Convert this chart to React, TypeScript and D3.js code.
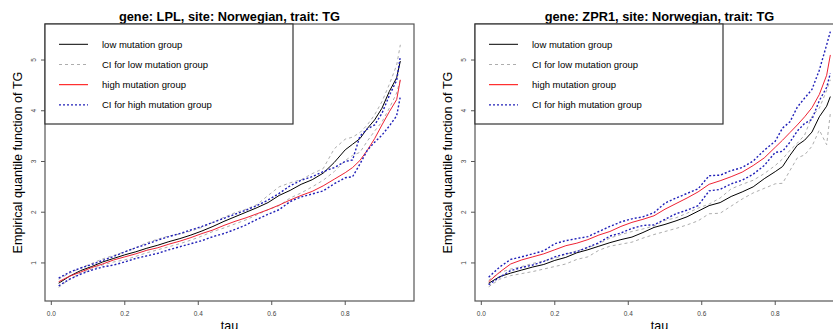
import React from "react";
import * as d3 from "d3";

const taus = [0.02,0.05,0.08,0.11,0.14,0.17,0.20,0.23,0.26,0.29,0.32,0.35,0.38,0.41,0.44,0.47,0.50,0.53,0.56,0.59,0.62,0.65,0.68,0.71,0.74,0.77,0.80,0.82,0.84,0.86,0.88,0.90,0.92,0.94,0.95];

// gene LPL
const lplLow = [0.60,0.74,0.85,0.93,1.02,1.09,1.16,1.22,1.29,1.35,1.42,1.48,1.55,1.63,1.72,1.82,1.91,2.00,2.09,2.19,2.33,2.43,2.55,2.64,2.77,2.98,3.23,3.34,3.45,3.65,3.82,4.05,4.38,4.65,4.98];
const lplLowUpper = [0.68,0.80,0.90,0.99,1.08,1.15,1.22,1.30,1.40,1.47,1.53,1.57,1.63,1.70,1.80,1.90,1.99,2.06,2.15,2.33,2.50,2.58,2.64,2.76,2.86,3.25,3.44,3.48,3.57,3.72,3.92,4.18,4.52,4.90,5.30];
const lplLowLower = [0.52,0.68,0.80,0.88,0.96,1.02,1.06,1.13,1.20,1.26,1.32,1.38,1.45,1.53,1.62,1.69,1.77,1.85,1.95,2.05,2.13,2.28,2.38,2.50,2.63,2.80,3.02,3.12,3.18,3.40,3.60,3.78,4.05,4.35,4.62];
const lplHigh = [0.63,0.74,0.82,0.91,0.98,1.06,1.12,1.18,1.25,1.30,1.37,1.43,1.50,1.58,1.65,1.74,1.82,1.89,1.97,2.05,2.14,2.24,2.33,2.41,2.52,2.65,2.78,2.88,3.02,3.22,3.45,3.72,3.98,4.22,4.61];
const lplHighUpper = [0.70,0.82,0.90,0.97,1.05,1.13,1.22,1.30,1.37,1.45,1.52,1.58,1.65,1.72,1.80,1.88,1.96,2.04,2.13,2.24,2.37,2.52,2.63,2.70,2.80,2.88,3.00,3.03,3.50,3.64,3.72,3.95,4.30,4.60,5.07];
const lplHighLower = [0.55,0.68,0.78,0.86,0.92,0.96,1.02,1.09,1.14,1.19,1.26,1.32,1.38,1.44,1.52,1.58,1.66,1.75,1.86,1.96,2.05,2.21,2.30,2.36,2.42,2.56,2.68,2.70,2.95,3.22,3.38,3.52,3.70,3.90,4.28];

// gene ZPR1
const zprLow = [0.60,0.73,0.80,0.86,0.92,0.97,1.05,1.11,1.20,1.26,1.33,1.40,1.46,1.51,1.60,1.70,1.76,1.83,1.91,2.02,2.13,2.19,2.31,2.40,2.50,2.66,2.80,2.90,3.12,3.32,3.42,3.58,3.88,4.09,4.28];
const zprLowUpper = [0.66,0.81,0.88,0.93,0.99,1.04,1.09,1.17,1.24,1.30,1.38,1.49,1.56,1.62,1.67,1.73,1.84,1.89,1.98,2.08,2.16,2.28,2.46,2.55,2.63,2.76,2.92,3.05,3.22,3.36,3.52,3.89,4.05,4.40,4.61];
const zprLowLower = [0.53,0.68,0.75,0.79,0.83,0.88,0.93,0.98,1.07,1.12,1.25,1.33,1.37,1.41,1.49,1.56,1.62,1.68,1.75,1.83,1.97,1.98,2.12,2.26,2.38,2.47,2.56,2.57,2.82,3.07,3.13,3.30,3.62,3.33,3.95];
const zprHigh = [0.63,0.82,0.98,1.06,1.12,1.18,1.26,1.34,1.39,1.46,1.55,1.62,1.72,1.80,1.86,1.93,2.06,2.17,2.28,2.40,2.55,2.62,2.70,2.79,2.92,3.07,3.28,3.42,3.57,3.72,3.88,4.06,4.32,4.70,5.10];
const zprHighUpper = [0.72,0.92,1.07,1.12,1.18,1.24,1.38,1.44,1.48,1.52,1.62,1.72,1.81,1.87,1.91,1.99,2.18,2.28,2.37,2.46,2.72,2.73,2.82,2.88,3.01,3.22,3.40,3.66,3.78,4.07,4.25,4.42,4.80,5.30,5.56];
const zprHighLower = [0.57,0.72,0.85,0.91,0.96,1.03,1.12,1.18,1.22,1.31,1.40,1.53,1.59,1.68,1.74,1.75,1.86,1.97,2.04,2.13,2.42,2.45,2.56,2.63,2.75,2.92,3.18,3.20,3.38,3.60,3.75,3.83,4.20,4.46,4.74];

const xTicks = [0, 0.2, 0.4, 0.6, 0.8];
const xTickLabels = ["0.0", "0.2", "0.4", "0.6", "0.8"];
const yTicks = [1, 2, 3, 4, 5];
const legendLabels = ["low mutation group", "CI for low mutation group", "high mutation group", "CI for high mutation group"];
const titles = ["gene: LPL, site: Norwegian, trait: TG", "gene: ZPR1, site: Norwegian, trait: TG"];

const FONT = "'Liberation Sans', Arial, Helvetica, sans-serif";
const BLACK = "#000000";
const GRAY = "#ADADAD";
const RED = "#EE2233";
const BLUE = "#2020B8";

const styles = [
  { color: BLACK, width: 1, dash: undefined as string | undefined },
  { color: GRAY, width: 1, dash: "3,3" },
  { color: RED, width: 1, dash: undefined as string | undefined },
  { color: BLUE, width: 1.4, dash: "2,2" },
];

function Panel({ ox, title, low, lowU, lowL, high, highU, highL, id }: any) {
  const left = 45, right = 414, top = 24, bottom = 301;
  const xr = [0.02, 0.95];
  const ext = (xr[1] - xr[0]) * 0.04;
  const x = d3.scaleLinear().domain([xr[0] - ext, xr[1] + ext]).range([left, right]);
  const y = d3.scaleLinear().domain([0.25, 5.71]).range([bottom, top]);
  const line = d3.line<number>().x((_, i) => x(taus[i])).y((d) => y(d));
  const cx = (left + right) / 2;
  const cy = (top + bottom) / 2;
  const series = [
    { d: low, s: styles[0] },
    { d: lowU, s: styles[1] },
    { d: lowL, s: styles[1] },
    { d: high, s: styles[2] },
    { d: highU, s: styles[3] },
    { d: highL, s: styles[3] },
  ];
  return (
    <g transform={`translate(${ox},0)`}>
      <defs>
        <clipPath id={id}>
          <rect x={left} y={top} width={right - left} height={bottom - top} />
        </clipPath>
      </defs>
      <text x={cx} y={20.5} textAnchor="middle" fontFamily={FONT} fontWeight="bold" fontSize={12.8} fill="#000">{title}</text>
      <g clipPath={`url(#${id})`}>
        {series.map((sr, i) => (
          <path key={i} d={line(sr.d) || ""} fill="none" stroke={sr.s.color} strokeWidth={sr.s.width} strokeDasharray={sr.s.dash} />
        ))}
      </g>
      <rect x={left} y={top} width={right - left} height={bottom - top} fill="none" stroke="#555" strokeWidth={1.2} />
      {xTicks.map((t, i) => (
        <g key={i}>
          <line x1={x(t)} x2={x(t)} y1={bottom} y2={bottom + 4} stroke="#555" strokeWidth={1} />
          <text x={x(t)} y={315.5} textAnchor="middle" fontFamily={FONT} fontSize={6.5} fill="#444">{xTickLabels[i]}</text>
        </g>
      ))}
      {yTicks.map((t, i) => (
        <g key={i}>
          <line x1={left - 4} x2={left} y1={y(t)} y2={y(t)} stroke="#555" strokeWidth={1} />
          <text transform={`translate(35.5,${y(t)}) rotate(-90)`} textAnchor="middle" fontFamily={FONT} fontSize={6.5} fill="#444">{String(t)}</text>
        </g>
      ))}
      <text transform={`translate(22,${cy}) rotate(-90)`} textAnchor="middle" fontFamily={FONT} fontSize={12.6} fill="#000">Empirical quantile function of TG</text>
      <text x={cx} y={330} textAnchor="middle" fontFamily={FONT} fontSize={12.6} fill="#000">tau</text>
      <g>
        <rect x={left} y={top} width={248} height={100} fill="#fff" stroke="#333" strokeWidth={1.2} />
        {legendLabels.map((lab, i) => {
          const yy = top + 20.3 + i * 20.2;
          const s = styles[i];
          return (
            <g key={i}>
              <line x1={left + 14} x2={left + 43} y1={yy} y2={yy} stroke={i === 2 ? "#FF0000" : s.color} strokeWidth={s.width} strokeDasharray={s.dash} />
              <text x={left + 57} y={yy + 3.3} fontFamily={FONT} fontSize={9.5} fill="#000">{lab}</text>
            </g>
          );
        })}
      </g>
    </g>
  );
}

export default function App() {
  return (
    <svg width={833} height={329} style={{ position: "absolute", left: 0, top: 0, background: "#fff" }}>
      <rect x={0} y={0} width={833} height={329} fill="#fff" />
      <Panel ox={0} id="clipA" title={titles[0]} low={lplLow} lowU={lplLowUpper} lowL={lplLowLower} high={lplHigh} highU={lplHighUpper} highL={lplHighLower} />
      <Panel ox={430} id="clipB" title={titles[1]} low={zprLow} lowU={zprLowUpper} lowL={zprLowLower} high={zprHigh} highU={zprHighUpper} highL={zprHighLower} />
    </svg>
  );
}
